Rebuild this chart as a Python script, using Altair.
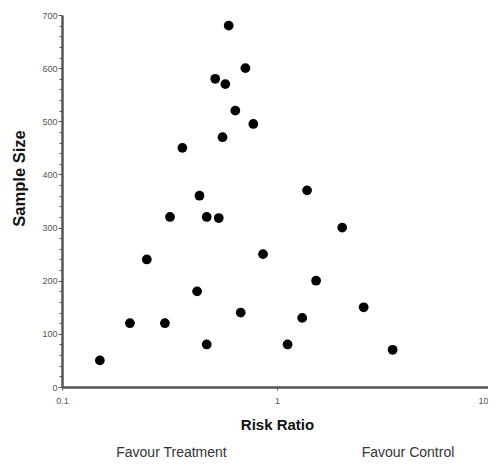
import altair as alt
import pandas as pd

risk_ratio = [0.596, 0.713, 0.516, 0.575, 0.640, 0.776, 0.558, 0.363, 0.436, 0.318,
              0.471, 0.536, 1.38, 2.01, 0.248, 0.207, 0.301, 0.150, 0.425, 0.471,
              0.678, 0.861, 1.52, 2.53, 1.31, 1.12, 3.45]
sample_size = [680, 600, 580, 570, 520, 495, 470, 450, 360, 320,
               320, 318, 370, 300, 240, 120, 120, 50, 180, 80,
               140, 250, 200, 150, 130, 80, 70]
y_ticks = list(range(0, 701, 20))
x_ticks = [0.1, 1, 10]
notes = ["Favour Treatment", "Favour Control"]

df = pd.DataFrame({"rr": risk_ratio, "n": sample_size})

font = "Liberation Sans"

points = alt.Chart(df).mark_circle(size=95, color="black", opacity=1).encode(
    x=alt.X("rr:Q", scale=alt.Scale(type="log", domain=[0.1, 10], range=[0, 430]),
            axis=alt.Axis(title="Risk Ratio", values=x_ticks, format="~g",
                          grid=False, tickSize=3, labelFlush=False,
                          labelAlign={"condition": {"test": "datum.value >= 10", "value": "right"}, "value": "center"},
                          labelOffset={"condition": {"test": "datum.value >= 10", "value": -4}, "value": 0},
                          labelPadding=6, titlePadding=12,
                          titleFontSize=15, titleX=215)),
    y=alt.Y("n:Q", scale=alt.Scale(domain=[0, 700], nice=False),
            axis=alt.Axis(title="Sample Size", values=y_ticks, grid=False,
                          labelExpr="datum.value % 100 === 0 ? datum.label : ''",
                          labelOverlap=False,
                          tickSize={"condition": {"test": "datum.value % 100 === 0", "value": 4}, "value": 3},
                          labelPadding=1, titleFontSize=16.5,
                          titleX=-43, titleY=163, titleBaseline="middle",
                          titleAlign="center")),
)

note_df = pd.DataFrame({"t": notes, "px": [109.5, 346]})
text = alt.Chart(note_df).mark_text(font=font, fontSize=14, color="#333",
                                    baseline="alphabetic", align="center").encode(
    x=alt.X("px:Q", scale=None),
    y=alt.value(442),
    text="t:N",
)

chart = alt.layer(points, text).properties(
    width=426, height=372,
    autosize=alt.AutoSizeParams(type="none"),
    padding={"left": 54, "top": 7, "right": 0, "bottom": 74},
).configure_view(stroke=None).configure_axis(
    domainColor="#555", domainWidth=2.5, tickColor="#555", tickWidth=1,
    labelFont=font, labelFontSize=9, labelColor="#555",
    titleFont=font, titleFontWeight="bold", titleColor="#111",
)

chart.save("out.html", embed_options={"renderer": "svg", "actions": False})
